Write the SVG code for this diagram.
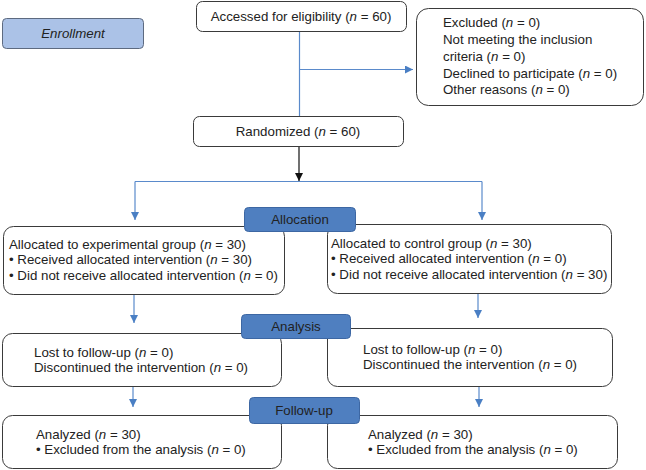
<svg xmlns="http://www.w3.org/2000/svg" width="646" height="470" viewBox="0 0 646 470">
<style>
text{font-family:"Liberation Sans",Arial,sans-serif;font-size:13.3px;fill:#222}
.box{fill:#fff;stroke:#3a3a3a;stroke-width:1}
.tab{fill:#4f7fc0;stroke:#3d67a3;stroke-width:1}
.c{fill:none;stroke:#5a8acb;stroke-width:1.2}
.k{fill:none;stroke:#111;stroke-width:1.2}
.ctr{text-anchor:middle}
</style>
<defs>
<marker id="ab" viewBox="0 0 10 10" refX="10" refY="5" markerWidth="8" markerHeight="8" markerUnits="userSpaceOnUse" orient="auto"><path d="M0,0L10,5L0,10z" fill="#4a7fc4"/></marker>
<marker id="ak" viewBox="0 0 10 10" refX="10" refY="5" markerWidth="8" markerHeight="8" markerUnits="userSpaceOnUse" orient="auto"><path d="M0,0L10,5L0,10z" fill="#111"/></marker>
</defs>
<g id="connectors">
<path class="c" d="M299.5,31V116"/>
<path class="c" d="M299.5,69.5H413" marker-end="url(#ab)"/>
<path class="k" d="M299,147V181" marker-end="url(#ak)"/>
<path class="c" d="M135,181.5H482"/>
<path class="c" d="M135,181.5V220" marker-end="url(#ab)"/>
<path class="c" d="M482,181.5V220" marker-end="url(#ab)"/>
<path class="c" d="M134,294V323" marker-end="url(#ab)"/>
<path class="c" d="M478,293V318" marker-end="url(#ab)"/>
<path class="c" d="M133,387V407" marker-end="url(#ab)"/>
<path class="c" d="M479,387V407" marker-end="url(#ab)"/>
</g>
<g id="enrollment">
<rect x="2.5" y="18.5" width="141" height="30" rx="4" fill="#abc2e7" stroke="#5d6a80"/>
<text x="73" y="38" class="ctr" font-style="italic" fill="#333">Enrollment</text>
</g>
<g id="accessed">
<rect class="box" x="196.5" y="1.5" width="210" height="30" rx="6"/>
<text x="301" y="21" class="ctr">Accessed for eligibility (<tspan font-style="italic">n</tspan> = 60)</text>
</g>
<g id="excluded">
<rect class="box" x="416.5" y="8.5" width="227" height="97" rx="12"/>
<text x="443" y="27">Excluded (<tspan font-style="italic">n</tspan> = 0)</text>
<text x="443" y="44">Not meeting the inclusion</text>
<text x="443" y="61">criteria (<tspan font-style="italic">n</tspan> = 0)</text>
<text x="443" y="78">Declined to participate (<tspan font-style="italic">n</tspan> = 0)</text>
<text x="443" y="94">Other reasons (<tspan font-style="italic">n</tspan> = 0)</text>
</g>
<g id="randomized">
<rect class="box" x="193.5" y="116.5" width="210" height="30" rx="6"/>
<text x="298" y="136" class="ctr">Randomized (<tspan font-style="italic">n</tspan> = 60)</text>
</g>
<g id="alloc-exp">
<rect class="box" x="3.5" y="226.5" width="281" height="68" rx="10"/>
<text x="9" y="248.5">Allocated to experimental group (<tspan font-style="italic">n</tspan> = 30)</text>
<text x="9" y="264">• Received allocated intervention (<tspan font-style="italic">n</tspan> = 30)</text>
<text x="9" y="280">• Did not receive allocated intervention (<tspan font-style="italic">n</tspan> = 0)</text>
</g>
<g id="alloc-ctl">
<rect class="box" x="327.5" y="224.5" width="284" height="69" rx="10"/>
<text x="331" y="248">Allocated to control group (<tspan font-style="italic">n</tspan> = 30)</text>
<text x="331" y="263">• Received allocated intervention (<tspan font-style="italic">n</tspan> = 0)</text>
<text x="331" y="279">• Did not receive allocated intervention (<tspan font-style="italic">n</tspan> = 30)</text>
</g>
<g id="analysis-exp">
<rect class="box" x="2.5" y="333.5" width="279" height="53" rx="10"/>
<text x="34" y="357">Lost to follow-up (<tspan font-style="italic">n</tspan> = 0)</text>
<text x="34" y="372">Discontinued the intervention (<tspan font-style="italic">n</tspan> = 0)</text>
</g>
<g id="analysis-ctl">
<rect class="box" x="327.5" y="328.5" width="285" height="58" rx="10"/>
<text x="363" y="354">Lost to follow-up (<tspan font-style="italic">n</tspan> = 0)</text>
<text x="363" y="369">Discontinued the intervention (<tspan font-style="italic">n</tspan> = 0)</text>
</g>
<g id="followup-exp">
<rect class="box" x="2.5" y="415.5" width="279" height="53" rx="10"/>
<text x="36" y="439">Analyzed (<tspan font-style="italic">n</tspan> = 30)</text>
<text x="36" y="454">• Excluded from the analysis (<tspan font-style="italic">n</tspan> = 0)</text>
</g>
<g id="followup-ctl">
<rect class="box" x="327.5" y="415.5" width="290" height="53" rx="10"/>
<text x="368" y="439">Analyzed (<tspan font-style="italic">n</tspan> = 30)</text>
<text x="368" y="454">• Excluded from the analysis (<tspan font-style="italic">n</tspan> = 0)</text>
</g>
<g id="tab-allocation">
<rect class="tab" x="244.5" y="207.5" width="111" height="24" rx="4"/>
<text x="300" y="224" class="ctr">Allocation</text>
</g>
<g id="tab-analysis">
<rect class="tab" x="241.5" y="314.5" width="109" height="24" rx="4"/>
<text x="296" y="331" class="ctr">Analysis</text>
</g>
<g id="tab-followup">
<rect class="tab" x="249.5" y="397.5" width="110" height="26" rx="4"/>
<text x="304" y="415" class="ctr">Follow-up</text>
</g>
</svg>
